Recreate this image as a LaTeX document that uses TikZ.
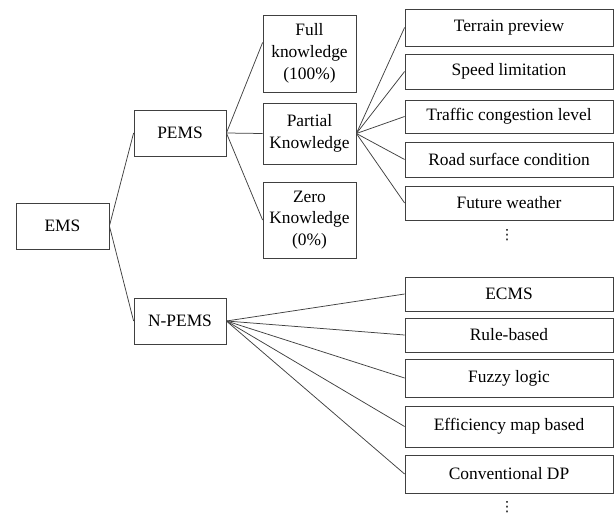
\documentclass[tikz,border=0pt]{standalone}
\usepackage{fontspec}
\setmainfont{Liberation Serif}
\newfontfamily\dvsans{DejaVu Sans}
\begin{document}
\begin{tikzpicture}[x=1pt,y=-1pt,
  box/.style={draw=black!75,line width=0.8pt,inner sep=0pt,align=center,
    font=\fontsize{17.4}{21.7}\selectfont,text=black},
  dotsnode/.style={inner sep=0pt,font=\dvsans\fontsize{14}{15}\selectfont,text=black},
  conn/.style={draw=black!75,line width=0.75pt}]
\useasboundingbox (0,0) rectangle (615,514);
\node[box,minimum width=93pt,minimum height=46pt] (ems) at (62.5,226) {EMS};
\node[box,minimum width=92pt,minimum height=46pt] (pems) at (180,133) {PEMS};
\node[box,minimum width=92pt,minimum height=46pt] (npems) at (180,321) {N-PEMS};
\node[box,minimum width=93pt,minimum height=77pt] (full) at (309.5,53.5) {Full\\knowledge\\(100\%)};
\node[box,minimum width=93pt,minimum height=61pt] (partial) at (309.5,133.5) {Partial\\Knowledge};
\node[box,minimum width=93pt,minimum height=76pt] (zero) at (309.5,220) {Zero\\Knowledge\\(0\%)};
\node[box,minimum width=208pt,minimum height=37pt] (terrain) at (509,27.5) {Terrain preview};
\node[box,minimum width=208pt,minimum height=35pt] (speed) at (509,71.5) {Speed limitation};
\node[box,minimum width=208pt,minimum height=33pt] (traffic) at (509,116.5) {Traffic congestion level};
\node[box,minimum width=208pt,minimum height=35pt] (road) at (509,159.5) {Road surface condition};
\node[box,minimum width=208pt,minimum height=34pt] (weather) at (509,203) {Future weather};
\node[dotsnode] (dots1) at (507,235) {⋮};
\node[box,minimum width=208pt,minimum height=34pt] (ecms) at (509,294) {ECMS};
\node[box,minimum width=208pt,minimum height=34pt] (rule) at (509,335) {Rule-based};
\node[box,minimum width=208pt,minimum height=38pt] (fuzzy) at (509,378) {Fuzzy logic};
\node[box,minimum width=208pt,minimum height=41pt] (eff) at (509,426.5) {Efficiency map based};
\node[box,minimum width=208pt,minimum height=38pt] (dp) at (509,474) {Conventional DP};
\node[dotsnode] (dots2) at (507,507) {⋮};
\draw[conn] (ems.east) -- (pems.west);
\draw[conn] (ems.east) -- (npems.west);
\draw[conn] (pems.east) -- ([yshift=11pt]full.west);
\draw[conn] (pems.east) -- (partial.west);
\draw[conn] (pems.east) -- (zero.west);
\foreach \t in {terrain,speed,traffic,road,weather}
  \draw[conn] (partial.east) -- (\t.west);
\foreach \t in {ecms,rule,fuzzy,eff,dp}
  \draw[conn] (npems.east) -- (\t.west);
\end{tikzpicture}
\end{document}
